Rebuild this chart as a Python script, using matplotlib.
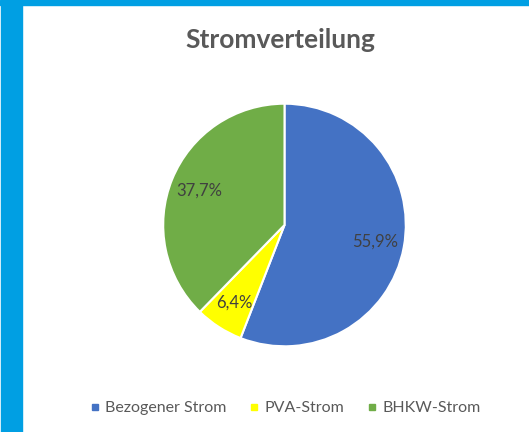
import matplotlib
matplotlib.use("Agg")
import matplotlib.pyplot as plt
from matplotlib.patches import Rectangle
from matplotlib.lines import Line2D

# Daten
categories = ["Bezogener Strom", "PVA-Strom", "BHKW-Strom"]
shares = [55.9, 6.4, 37.7]
slice_colors = ["#4472C4", "#FFFF00", "#70AD47"]

W, H = 529, 432
fig = plt.figure(figsize=(W / 100, H / 100), dpi=100)
fig.patch.set_facecolor("white")

# blauer Rahmen oben und links
fig.patches.append(Rectangle((0, 1 - 5 / H), 1, 5 / H, transform=fig.transFigure,
                             color="#009FE3", zorder=0))
fig.patches.append(Rectangle((1 / W, 0), 21 / W, 1, transform=fig.transFigure,
                             color="#009FE3", zorder=0))

cx, cy, r = 284.5, 225, 122.5
ax = fig.add_axes([(cx - r) / W, (H - cy - r) / H, 2 * r / W, 2 * r / H])

wedges, texts, autotexts = ax.pie(
    shares,
    colors=slice_colors,
    startangle=90,
    counterclock=False,
    autopct=lambda p: f"{p:.1f}%".replace(".", ","),
    pctdistance=0.76,
    wedgeprops=dict(edgecolor="white", linewidth=1.5),
    textprops=dict(color="#404040", fontsize=12, family="Lato"),
)
ax.set_xlim(-1.01, 1.01)
ax.set_ylim(-1.01, 1.01)
ax.set_aspect("equal")

fig.text(280 / W, 1 - 40 / H, "Stromverteilung", ha="center", va="center",
         fontsize=19, fontweight="bold", color="#595959", family="Lato")

handles = [Line2D([], [], marker="s", linestyle="", markersize=5,
                  markerfacecolor=c, markeredgecolor=c) for c in slice_colors]
fig.legend(handles, categories, loc="center", bbox_to_anchor=(285 / W, 1 - 408 / H),
           ncol=3, frameon=False, handletextpad=0.3, columnspacing=1.4,
           handlelength=0.7, prop=dict(family="Lato", size=11.5), labelcolor="#595959")

fig.savefig("out.png", dpi=100)
